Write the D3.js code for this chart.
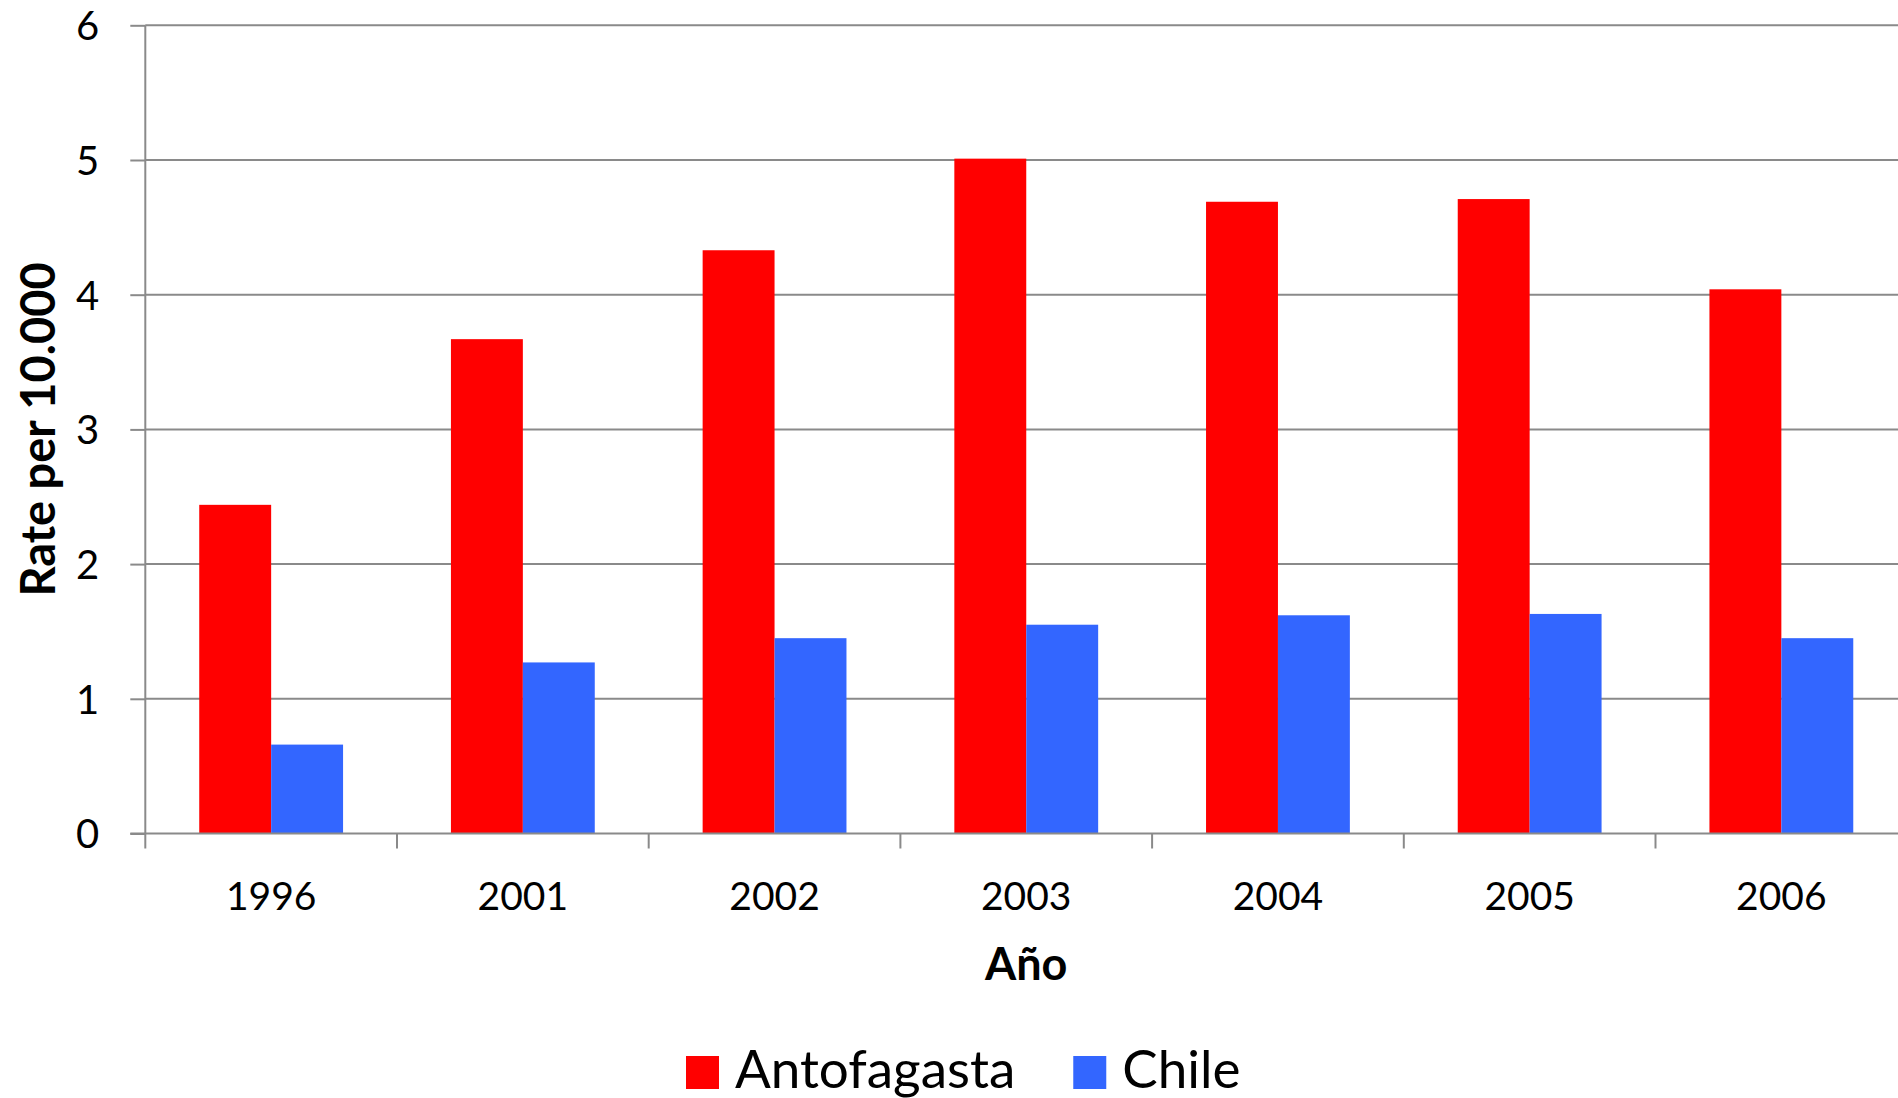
<!DOCTYPE html>
<html>
<head>
<meta charset="utf-8">
<script src="https://cdn.jsdelivr.net/npm/d3@7"></script>
<style>
  html, body { margin: 0; padding: 0; background: #fff; overflow: hidden; }
  svg { display: block; font-family: Lato, "Open Sans", sans-serif; }
</style>
</head>
<body>
<svg id="chart" width="1898" height="1098"></svg>
<script>
// Rate per 10.000 inhabitants, Antofagasta vs Chile
const years = ["1996", "2001", "2002", "2003", "2004", "2005", "2006"];
const seriesNames = ["Antofagasta", "Chile"];
const antofagasta = [2.44, 3.67, 4.33, 5.01, 4.69, 4.71, 4.04];
const chile = [0.66, 1.27, 1.45, 1.55, 1.62, 1.63, 1.45];
const seriesColors = ["#FF0000", "#3366FF"];
const yTicks = [0, 1, 2, 3, 4, 5, 6];

const rows = years.map((y, i) => ({ year: y, values: [antofagasta[i], chile[i]] }));

const svg = d3.select("#chart");
const plot = { left: 145.3, top: 25.3, bottom: 833.5, step: 251.7 };
const plotRight = plot.left + plot.step * years.length;
const axisColor = "#8a8a8a";

const x = d3.scaleBand().domain(years).range([plot.left, plotRight]).padding(0);
const xs = d3.scaleBand().domain(seriesNames).range([0, x.bandwidth()])
  .paddingInner(0).paddingOuter(0.75);
const y = d3.scaleLinear().domain([0, 6]).range([plot.bottom, plot.top]);

// horizontal gridlines
svg.append("g")
  .selectAll("line")
  .data(yTicks.filter(d => d > 0))
  .join("line")
  .attr("x1", plot.left).attr("x2", plotRight)
  .attr("y1", d => y(d)).attr("y2", d => y(d))
  .attr("stroke", axisColor).attr("stroke-width", 2);

// bars
const groups = svg.append("g")
  .selectAll("g")
  .data(rows)
  .join("g")
  .attr("transform", d => `translate(${x(d.year)},0)`);

groups.selectAll("rect")
  .data(d => d.values.map((v, i) => ({ name: seriesNames[i], value: v, color: seriesColors[i] })))
  .join("rect")
  .attr("x", d => xs(d.name))
  .attr("width", xs.bandwidth())
  .attr("y", d => y(d.value))
  .attr("height", d => y(0) - y(d.value))
  .attr("fill", d => d.color);

// y axis
const yAxis = svg.append("g")
  .attr("transform", `translate(${plot.left},0)`)
  .call(d3.axisLeft(y).tickValues(yTicks).tickFormat(d3.format("d"))
    .tickSize(15).tickPadding(31).tickSizeOuter(0));
yAxis.select(".domain").attr("stroke", axisColor).attr("stroke-width", 2)
  .attr("d", `M0,${plot.top}V${plot.bottom + 15}`);
yAxis.selectAll(".tick line").attr("stroke", axisColor).attr("stroke-width", 2);
yAxis.selectAll(".tick text")
  .attr("fill", "#000").attr("font-size", 40).attr("font-family", "Lato")
  .attr("dy", "0.36em");

// x axis baseline and category boundary ticks
svg.append("line")
  .attr("x1", plot.left - 15).attr("x2", plotRight)
  .attr("y1", y(0)).attr("y2", y(0))
  .attr("stroke", axisColor).attr("stroke-width", 2);

svg.append("g")
  .selectAll("line")
  .data(years.slice(1).concat(["end"]))
  .join("line")
  .attr("x1", d => d === "end" ? plotRight : x(d))
  .attr("x2", d => d === "end" ? plotRight : x(d))
  .attr("y1", y(0)).attr("y2", y(0) + 15)
  .attr("stroke", axisColor).attr("stroke-width", 2);

// category labels
svg.append("g")
  .selectAll("text")
  .data(years)
  .join("text")
  .attr("x", d => x(d) + x.bandwidth() / 2)
  .attr("y", 910)
  .attr("text-anchor", "middle")
  .attr("font-size", 39)
  .attr("fill", "#000")
  .text(d => d);

// axis titles
svg.append("text")
  .attr("x", (plot.left + plotRight) / 2)
  .attr("y", 980)
  .attr("text-anchor", "middle")
  .attr("font-size", 45)
  .attr("font-weight", "bold")
  .attr("fill", "#000")
  .text("Año");

svg.append("text")
  .attr("transform", `translate(55,${(plot.top + plot.bottom) / 2}) rotate(-90)`)
  .attr("text-anchor", "middle")
  .attr("font-size", 47)
  .attr("font-weight", "bold")
  .attr("fill", "#000")
  .text("Rate per 10.000");

// legend
const legend = svg.append("g").attr("transform", "translate(686,1056)");
let cursor = 0;
seriesNames.forEach((name, i) => {
  legend.append("rect")
    .attr("x", cursor).attr("y", 0)
    .attr("width", 33).attr("height", 33)
    .attr("fill", seriesColors[i]);
  const t = legend.append("text")
    .attr("x", cursor + 49).attr("y", 32)
    .attr("font-size", 53)
    .attr("fill", "#000")
    .text(name);
  cursor += 49 + t.node().getComputedTextLength() + 58;
});
</script>
</body>
</html>
